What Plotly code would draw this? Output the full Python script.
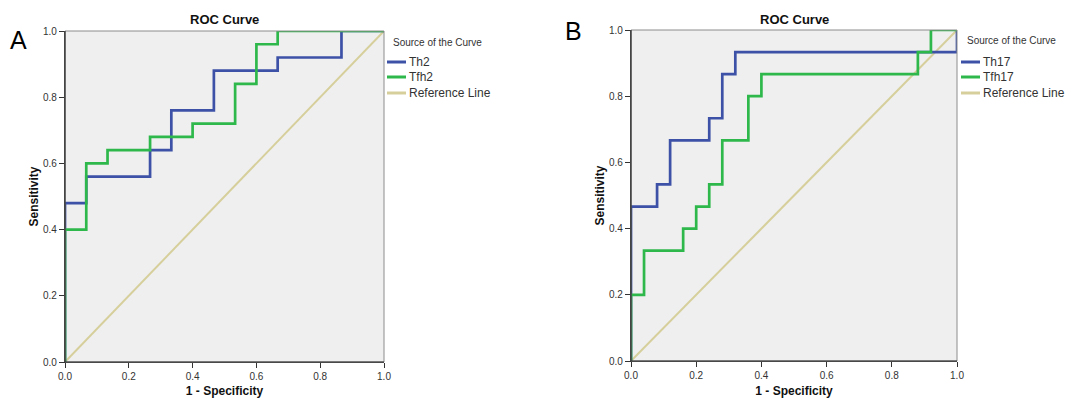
import plotly.graph_objects as go

# ---- Data ----
# Panel A
th2_fpr = [0, 0, 1/15, 1/15, 4/15, 4/15, 5/15, 5/15, 7/15, 7/15, 10/15, 10/15, 13/15, 13/15, 1.0]
th2_tpr = [0, 0.48, 0.48, 0.56, 0.56, 0.64, 0.64, 0.76, 0.76, 0.88, 0.88, 0.92, 0.92, 1.0, 1.0]
tfh2_fpr = [0, 0, 1/15, 1/15, 2/15, 2/15, 4/15, 4/15, 6/15, 6/15, 8/15, 8/15, 9/15, 9/15, 10/15, 10/15, 1.0]
tfh2_tpr = [0, 0.40, 0.40, 0.60, 0.60, 0.64, 0.64, 0.68, 0.68, 0.72, 0.72, 0.84, 0.84, 0.96, 0.96, 1.0, 1.0]
# Panel B
th17_fpr = [0, 0, 0.08, 0.08, 0.12, 0.12, 0.24, 0.24, 0.28, 0.28, 0.32, 0.32, 1.0, 1.0]
th17_tpr = [0, 7/15, 7/15, 8/15, 8/15, 10/15, 10/15, 11/15, 11/15, 13/15, 13/15, 14/15, 14/15, 1.0]
tfh17_fpr = [0, 0, 0.04, 0.04, 0.16, 0.16, 0.20, 0.20, 0.24, 0.24, 0.28, 0.28, 0.36, 0.36, 0.40, 0.40,
             0.88, 0.88, 0.92, 0.92, 1.0]
tfh17_tpr = [0, 3/15, 3/15, 5/15, 5/15, 6/15, 6/15, 7/15, 7/15, 8/15, 8/15, 10/15, 10/15, 12/15, 12/15, 13/15,
             13/15, 14/15, 14/15, 1.0, 1.0]
ref_line = [0, 1]

legend_a = ["Th2", "Tfh2", "Reference Line"]
legend_b = ["Th17", "Tfh17", "Reference Line"]
legend_title = "Source of the Curve"

tick_vals = [0, 0.2, 0.4, 0.6, 0.8, 1.0]
tick_text = ["0.0", "0.2", "0.4", "0.6", "0.8", "1.0"]

BLUE = "#3D52A6"
GREEN = "#2EB84B"
REFC = "#D6CF9C"
COLORS = [BLUE, GREEN, REFC]

W, H = 1067, 398

def fx(px):
    return px / W

def fy(py):
    return (H - py) / H

fig = go.Figure()

# Draw the reference line first (beneath), then the curves
fig.add_trace(go.Scatter(x=ref_line, y=ref_line, mode="lines", name=legend_a[2],
                         line=dict(color=REFC, width=2), xaxis="x", yaxis="y"))
fig.add_trace(go.Scatter(x=th2_fpr, y=th2_tpr, mode="lines", name=legend_a[0],
                         line=dict(color=BLUE, width=2.7), xaxis="x", yaxis="y"))
fig.add_trace(go.Scatter(x=tfh2_fpr, y=tfh2_tpr, mode="lines", name=legend_a[1],
                         line=dict(color=GREEN, width=2.7), xaxis="x", yaxis="y"))
fig.add_trace(go.Scatter(x=ref_line, y=ref_line, mode="lines", name=legend_b[2],
                         line=dict(color=REFC, width=2), xaxis="x2", yaxis="y2"))
fig.add_trace(go.Scatter(x=th17_fpr, y=th17_tpr, mode="lines", name=legend_b[0],
                         line=dict(color=BLUE, width=2.7), xaxis="x2", yaxis="y2"))
fig.add_trace(go.Scatter(x=tfh17_fpr, y=tfh17_tpr, mode="lines", name=legend_b[1],
                         line=dict(color=GREEN, width=2.7), xaxis="x2", yaxis="y2"))

FONT = "Liberation Sans, Arial, sans-serif"

axis_common = dict(range=[0, 1], tickvals=tick_vals, ticktext=tick_text, showgrid=False, zeroline=False,
                   showline=True, linecolor="#333333", linewidth=1.2, ticks="outside", ticklen=5,
                   tickcolor="#333333", tickfont=dict(family=FONT, size=10, color="#333333"),
                   fixedrange=True, automargin=False)

pA = dict(x0=65, x1=384, y0=31, y1=362)
pB = dict(x0=631, x1=957, y0=30, y1=361)

xtitle = dict(text="<b>1 - Specificity</b>", font=dict(size=12, color="#111111"), standoff=8)
ytitle = dict(text="<b>Sensitivity</b>", font=dict(size=12, color="#111111"), standoff=1)

fig.update_layout(
    width=W, height=H, margin=dict(l=0, r=0, t=0, b=0),
    paper_bgcolor="white", plot_bgcolor="#EFEFEF",
    font=dict(family=FONT, color="#222222"),
    showlegend=False,
    xaxis=dict(domain=[fx(pA["x0"]), fx(pA["x1"])], anchor="y", title=xtitle, **axis_common),
    yaxis=dict(domain=[fy(pA["y1"]), fy(pA["y0"])], anchor="x", title=ytitle, **axis_common),
    xaxis2=dict(domain=[fx(pB["x0"]), fx(pB["x1"])], anchor="y2", title=xtitle, **axis_common),
    yaxis2=dict(domain=[fy(pB["y1"]), fy(pB["y0"])], anchor="x2", title=ytitle, **axis_common),
)

# Gray frame on top/right of plot areas, dark axis lines on left/bottom
for xr, yr in (("x", "y"), ("x2", "y2")):
    fig.add_shape(type="rect", xref=f"{xr} domain", yref=f"{yr} domain", x0=0, x1=1, y0=0, y1=1,
                  line=dict(color="#8C8C8C", width=1), fillcolor="rgba(0,0,0,0)", layer="above")
    fig.add_shape(type="line", xref=f"{xr} domain", yref=f"{yr} domain", x0=0, x1=0, y0=0, y1=1,
                  line=dict(color="#333333", width=1.2), layer="above")
    fig.add_shape(type="line", xref=f"{xr} domain", yref=f"{yr} domain", x0=0, x1=1, y0=0, y1=0,
                  line=dict(color="#333333", width=1.2), layer="above")

# Legends (drawn as keys + labels)
def draw_legend(names, title_x, title_y, line_x0, line_x1, item_ys):
    fig.add_annotation(text=legend_title, x=fx(title_x), y=fy(title_y), xref="paper", yref="paper",
                       showarrow=False, xanchor="left", yanchor="middle",
                       font=dict(size=10, color="#333333"))
    for name, color, yy in zip(names, COLORS, item_ys):
        fig.add_shape(type="line", xref="paper", yref="paper", x0=fx(line_x0), x1=fx(line_x1),
                      y0=fy(yy), y1=fy(yy), line=dict(color=color, width=3))
        fig.add_annotation(text=name, x=fx(line_x1 + 1), y=fy(yy), xref="paper", yref="paper",
                           showarrow=False, xanchor="left", yanchor="middle",
                           font=dict(size=12, color="#333333"))

draw_legend(legend_a, 391, 42, 387, 406, [62, 77, 93])
draw_legend(legend_b, 965, 41, 961, 980, [62, 77, 93])

# Titles and panel letters
fig.add_annotation(text="<b>ROC Curve</b>", x=fx((pA["x0"] + pA["x1"]) / 2), y=fy(19), xref="paper", yref="paper",
                   showarrow=False, font=dict(size=13, color="#111111"), xanchor="center", yanchor="middle")
fig.add_annotation(text="<b>ROC Curve</b>", x=fx((pB["x0"] + pB["x1"]) / 2), y=fy(19), xref="paper", yref="paper",
                   showarrow=False, font=dict(size=13, color="#111111"), xanchor="center", yanchor="middle")
fig.add_annotation(text="A", x=fx(18), y=fy(40), xref="paper", yref="paper", showarrow=False,
                   font=dict(size=25, color="#000000"), xanchor="center", yanchor="middle")
fig.add_annotation(text="B", x=fx(573), y=fy(31), xref="paper", yref="paper", showarrow=False,
                   font=dict(size=25, color="#000000"), xanchor="center", yanchor="middle")

fig.write_html("out.html", config={"displayModeBar": False},
               post_script="document.body.style.margin='0';document.body.style.padding='0';")
